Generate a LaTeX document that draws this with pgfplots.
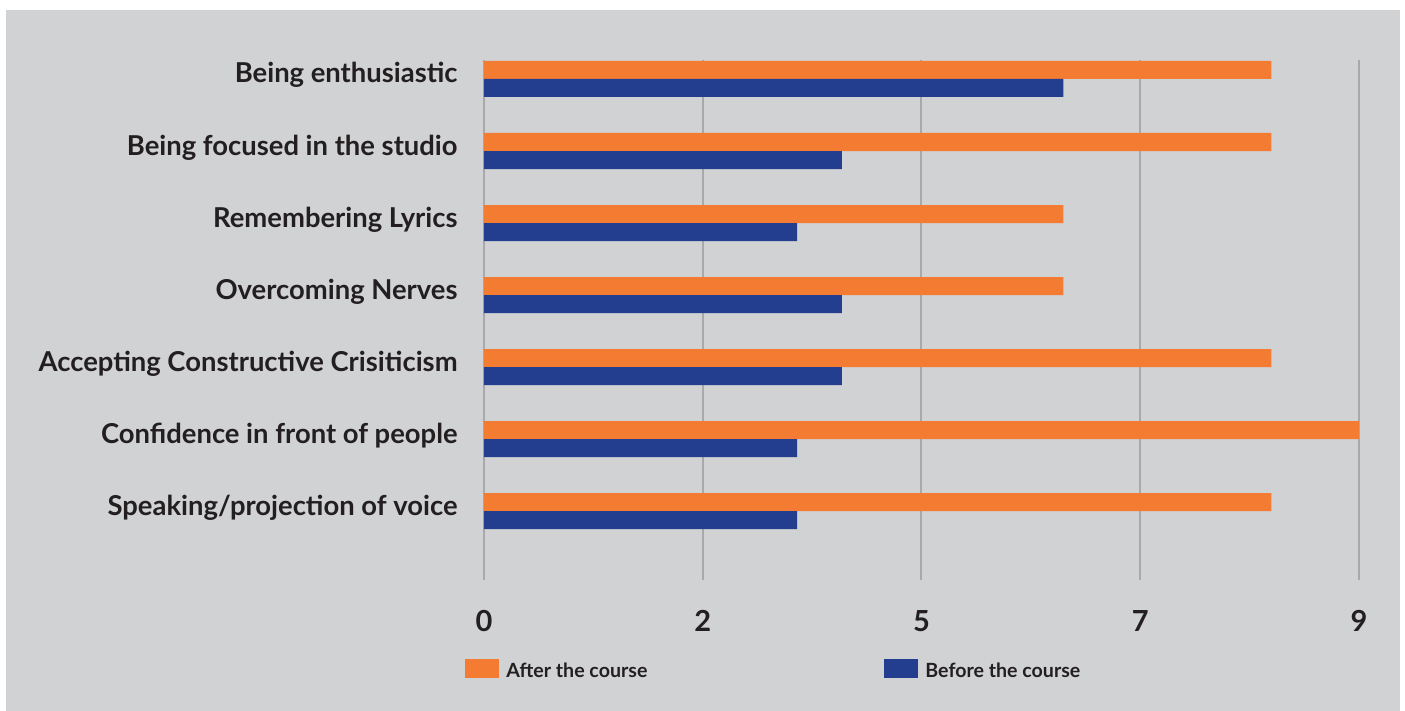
\documentclass[border=0pt]{standalone}
\usepackage{fontspec}
\setmainfont{Lato}
\usepackage{pgfplots}
\pgfplotsset{compat=1.18}

\definecolor{panel}{HTML}{D1D2D4}
\definecolor{gridc}{HTML}{A8A9AC}
\definecolor{after}{HTML}{F47B32}
\definecolor{before}{HTML}{243E8F}
\definecolor{ink}{HTML}{231F20}

\begin{document}
\begin{tikzpicture}
% page and grey panel (1 px = 0.5 pt)
\useasboundingbox (0,0) rectangle (702.5pt,355.5pt);
\fill[white] (0,0) rectangle (702.5pt,355.5pt);
\fill[panel] (3pt,0) rectangle (700pt,350.5pt);

\begin{axis}[
    at={(242pt,65.5pt)}, anchor=south west,
    scale only axis, width=437.5pt, height=260pt,
    xbar, bar width=0.25,
    xmin=0, xmax=9,
    ymin=-0.264, ymax=6.958, y dir=reverse,
    axis line style={draw=none},
    major tick length=0pt,
    xtick={0,2.25,4.5,6.75,9},
    xticklabels={0,2,5,7,9},
    ytick={0,...,6},
    yticklabels={Being enthusiastic, Being focused in the studio, Remembering Lyrics,
        Overcoming Nerves, Accepting Constructive Crisiticism,
        Confidence in front of people, Speaking/projection of voice},
    xmajorgrids, grid style={color=gridc, line width=1pt},
    xticklabel style={anchor=base, inner sep=0pt, yshift=-26pt,
        font=\bfseries\fontsize{14.5}{14.5}\selectfont, text=ink},
    yticklabel style={anchor=base east, inner sep=0pt, xshift=-13pt, yshift=-2pt,
        font=\bfseries\fontsize{13.7}{13.7}\selectfont, text=ink},
    legend columns=2,
    legend image code/.code={\fill[#1] (0pt,-3.5pt) rectangle (17pt,6pt);},
    legend style={draw=none, fill=none, inner sep=0pt,
        at={(rel axis cs:-0.02171,-0.15192)}, anchor=north west,
        nodes={inner sep=0pt, font=\bfseries\fontsize{9.8}{9.8}\selectfont, text=ink},
        /tikz/every odd column/.append style={column sep=3.5pt},
        /tikz/every even column/.append style={column sep=118.5pt}},
]
\addplot[fill=after, draw=none, bar shift=-0.125] coordinates {
    (8.1,0) (8.1,1) (5.96,2) (5.96,3) (8.1,4) (9,5) (8.1,6)
};
\addlegendentry{After the course}
\addplot[fill=before, draw=none, bar shift=0.125] coordinates {
    (5.96,0) (3.68,1) (3.22,2) (3.68,3) (3.68,4) (3.22,5) (3.22,6)
};
\addlegendentry{Before the course}
\end{axis}
\end{tikzpicture}
\end{document}
